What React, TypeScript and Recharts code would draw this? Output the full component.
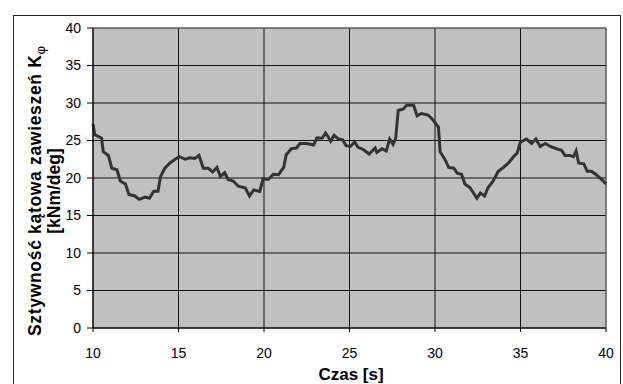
import {
  LineChart,
  Line,
  XAxis,
  YAxis,
  CartesianGrid,
  ReferenceLine,
} from 'recharts';

// values
const czas = [
  10.0, 10.1, 10.5, 10.6, 10.9, 11.1, 11.4, 11.6, 11.9, 12.1, 12.45, 12.7, 13.05, 13.3, 13.55, 13.8,
  13.95, 14.2, 14.5, 14.8, 15.05, 15.4, 15.65, 15.95, 16.2, 16.45, 16.75, 17.0, 17.25, 17.45, 17.7,
  17.9, 18.2, 18.5, 18.9, 19.15, 19.4, 19.75, 19.95, 20.25, 20.55, 20.85, 21.15, 21.3, 21.6, 21.9,
  22.1, 22.5, 22.9, 23.1, 23.4, 23.6, 23.75, 23.9, 24.1, 24.35, 24.6, 24.8, 25.05, 25.3, 25.5, 25.8,
  26.15, 26.5, 26.6, 26.9, 27.15, 27.35, 27.55, 27.7, 27.85, 28.15, 28.35, 28.75, 28.95, 29.2, 29.6,
  29.9, 30.2, 30.3, 30.6, 30.8, 31.1, 31.3, 31.55, 31.75, 32.05, 32.25, 32.45, 32.65, 32.9, 33.1,
  33.4, 33.7, 34.0, 34.3, 34.6, 34.8, 35.0, 35.35, 35.65, 35.9, 36.15, 36.45, 36.75, 37.1, 37.4,
  37.6, 37.9, 38.1, 38.25, 38.4, 38.7, 38.9, 39.15, 39.45, 39.75, 40.0,
];

const sztywnosc = [
  27.2, 25.8, 25.3, 23.5, 23.0, 21.3, 21.1, 19.6, 19.2, 17.8, 17.6, 17.15, 17.45, 17.3, 18.25, 18.25,
  20.2, 21.3, 22.0, 22.5, 22.85, 22.5, 22.7, 22.6, 23.0, 21.3, 21.3, 20.8, 21.4, 20.2, 20.7,
  19.8, 19.6, 18.9, 18.7, 17.6, 18.4, 18.2, 19.9, 19.8, 20.5, 20.45, 21.4, 23.1, 23.9, 24.0,
  24.6, 24.6, 24.4, 25.35, 25.3, 26.0, 25.5, 24.9, 25.7, 25.2, 25.1, 24.3, 24.2, 24.8, 24.1, 23.8,
  23.2, 24.0, 23.4, 23.9, 23.6, 25.2, 24.5, 25.3, 29.0, 29.2, 29.7, 29.7, 28.3, 28.6, 28.4,
  27.7, 26.8, 23.5, 22.4, 21.4, 21.3, 20.65, 20.5, 19.2, 18.7, 18.0, 17.3, 18.0, 17.6, 18.7,
  19.6, 20.9, 21.4, 22.0, 22.85, 23.3, 24.8, 25.2, 24.6, 25.2, 24.2, 24.6, 24.2, 23.9, 23.7,
  23.0, 23.0, 22.85, 23.6, 22.0, 21.9, 20.9, 20.9, 20.4, 19.8, 19.2,
];

const xTicks = [10, 15, 20, 25, 30, 35, 40];
const yTicks = [0, 5, 10, 15, 20, 25, 30, 35, 40];

const data = czas.map((t, i) => ({ t, k: sztywnosc[i] }));

const font = '"Liberation Sans", Arial, sans-serif';

function YTitle() {
  return (
    <g fontFamily={font} fontWeight="bold" fontSize={17.5} fill="#000">
      <text
        x={41}
        y={191}
        textAnchor="middle"
        transform="rotate(-90 41 191)"
        textLength={290}
        lengthAdjust="spacing"
      >
        Sztywność kątowa zawieszeń K
        <tspan fontWeight="normal" fontSize={13} dy={4}>φ</tspan>
      </text>
      <text x={60} y={191} textAnchor="middle" transform="rotate(-90 60 191)">
        [kNm/deg]
      </text>
    </g>
  );
}

function XTitle() {
  return (
    <text
      x={351}
      y={380}
      textAnchor="middle"
      fontFamily={font}
      fontWeight="bold"
      fontSize={17}
      fill="#000"
    >
      Czas [s]
    </text>
  );
}

export default function App() {
  return (
    <div style={{ position: 'absolute', left: 0, top: 0, width: 623, height: 384, background: '#fff', overflow: 'hidden' }}>
      <div
        style={{
          position: 'absolute',
          left: 13,
          top: 15,
          width: 606,
          height: 400,
          border: '1px solid #222',
        }}
      />
      <LineChart
        width={623}
        height={384}
        data={data}
        margin={{ top: 28, right: 17, left: 0, bottom: 0 }}
        style={{ position: 'absolute', left: 0, top: 0 }}
      >
        <CartesianGrid fill="#C0C0C0" fillOpacity={1} stroke="#111" strokeOpacity={1} />
        <ReferenceLine y={40} stroke="#808080" />
        <ReferenceLine x={40} stroke="#808080" />
        <XAxis
          dataKey="t"
          type="number"
          domain={[10, 40]}
          ticks={xTicks}
          height={56}
          tickSize={4}
          tickMargin={16}
          stroke="#000"
          tick={{ fill: '#000', fontSize: 14, fontFamily: font }}
          axisLine={{ stroke: '#000' }}
          tickLine={{ stroke: '#000' }}
          interval={0}
        />
        <YAxis
          type="number"
          domain={[0, 40]}
          ticks={yTicks}
          width={93}
          tickSize={6}
          tickMargin={6}
          stroke="#000"
          tick={{ fill: '#000', fontSize: 14, fontFamily: font }}
          axisLine={{ stroke: '#000' }}
          tickLine={{ stroke: '#000' }}
          interval={0}
        />
        <Line
          type="linear"
          dataKey="k"
          stroke="#333"
          strokeWidth={3}
          dot={false}
          isAnimationActive={false}
        />
        <YTitle />
        <XTitle />
      </LineChart>
    </div>
  );
}
